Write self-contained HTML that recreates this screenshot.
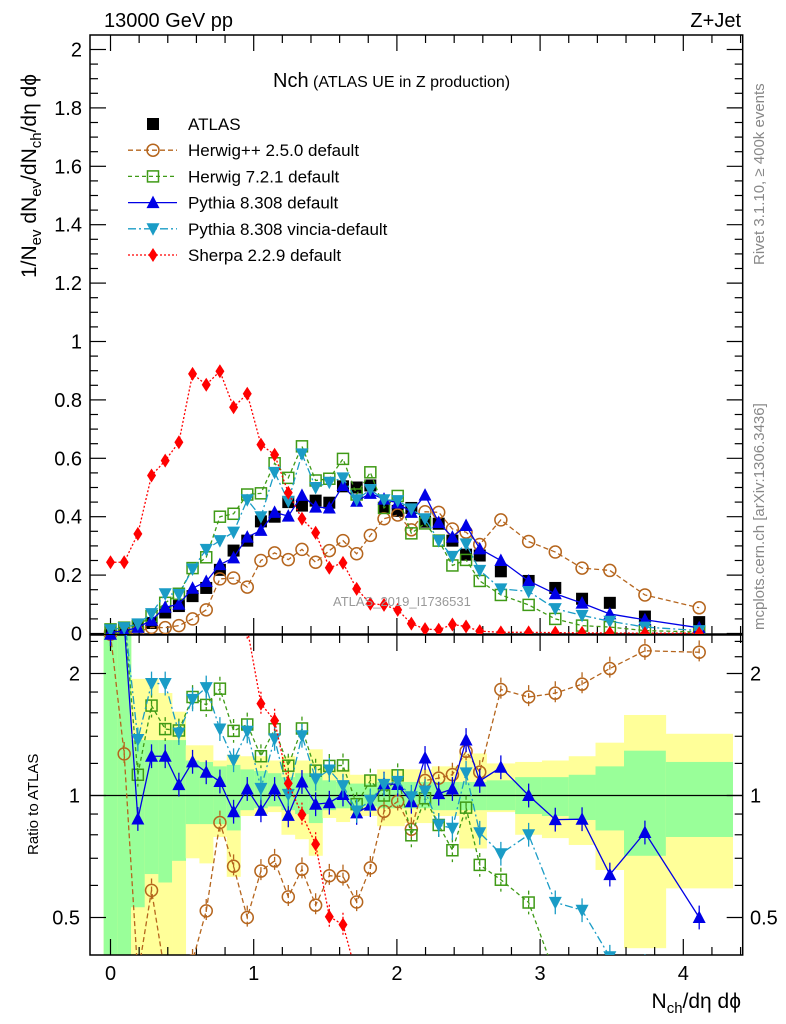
<!DOCTYPE html>
<html><head><meta charset="utf-8">
<style>
html,body{margin:0;padding:0;background:#fff;width:786px;height:1024px;overflow:hidden;}
svg{display:block;font-family:"Liberation Sans",sans-serif;overflow:hidden;}
</style></head>
<body>
<svg id="chart" width="786" height="1024" viewBox="0 0 786 1024" xmlns="http://www.w3.org/2000/svg">
<defs>
<clipPath id="clipMain"><rect x="90" y="35" width="653" height="599"/></clipPath>
<clipPath id="clipRatio"><rect x="90" y="635" width="653" height="320"/></clipPath>
</defs>
<g id="ratioBand" clip-path="url(#clipRatio)"></g>
<g id="axes"></g>
<g id="mainSeries" clip-path="url(#clipMain)"></g>
<g id="ratioSeries" clip-path="url(#clipRatio)"></g>
<text x="104" y="27" font-size="20">13000 GeV pp</text>
<text x="741" y="27" font-size="20" text-anchor="end">Z+Jet</text>
<text x="273" y="87"><tspan font-size="20">Nch</tspan><tspan font-size="16"> (ATLAS UE in Z production)</tspan></text>
<text x="333" y="606" font-size="13" fill="#999">ATLAS_2019_I1736531</text>
<text transform="translate(764,265) rotate(-90)" font-size="15" fill="#888">Rivet 3.1.10, ≥ 400k events</text>
<text transform="translate(764,630) rotate(-90)" font-size="15" fill="#888">mcplots.cern.ch [arXiv:1306.3436]</text>
<text transform="translate(36,278) rotate(-90)" font-size="21">1/N<tspan font-size="15" dy="5">ev</tspan><tspan dy="-5"> dN</tspan><tspan font-size="15" dy="5">ev</tspan><tspan dy="-5">/dN</tspan><tspan font-size="15" dy="5">ch</tspan><tspan dy="-5">/dη dϕ</tspan></text>
<text transform="translate(38,855) rotate(-90)" font-size="15">Ratio to ATLAS</text>
<text x="741" y="1008" font-size="21" text-anchor="end">N<tspan font-size="15" dy="5">ch</tspan><tspan dy="-5">/dη dϕ</tspan></text>
<g id="legend"></g>
</svg>
<script>
// ---- data ----
const xCenters = [0,0.0955,0.191,0.2865,0.382,0.4775,0.573,0.6685,0.764,0.8595,0.955,1.0505,1.146,1.2415,1.337,1.4325,1.528,1.6235,1.719,1.8145,1.91,2.0055,2.101,2.1965,2.292,2.3875,2.483,2.5785,2.726,2.92,3.106,3.293,3.487,3.732,4.111];
const binEdges = [-0.0478,0.0478,0.1433,0.2388,0.3343,0.4298,0.5253,0.6208,0.7163,0.8118,0.9073,1.0028,1.0983,1.1938,1.2893,1.3848,1.4803,1.5758,1.6713,1.7668,1.8623,1.9578,2.0533,2.1488,2.2443,2.3398,2.4353,2.5308,2.6263,2.826,3.013,3.2,3.387,3.586,3.878,4.345];
const atlasValues = [0.002,0.003,0.024,0.036,0.072,0.094,0.128,0.156,0.218,0.284,0.318,0.384,0.40,0.45,0.438,0.455,0.448,0.504,0.50,0.507,0.43,0.42,0.43,0.383,0.376,0.318,0.27,0.267,0.213,0.18,0.156,0.119,0.105,0.058,0.039];
const herwigppValues = [0.005,0.0038,0.006,0.021,0.02,0.027,0.05,0.081,0.187,0.19,0.159,0.25,0.276,0.253,0.288,0.244,0.284,0.318,0.273,0.336,0.393,0.406,0.355,0.417,0.415,0.358,0.347,0.305,0.389,0.315,0.279,0.224,0.216,0.132,0.088];
const herwig7Values = [0.014,0.02,0.027,0.06,0.105,0.136,0.224,0.261,0.40,0.41,0.476,0.48,0.583,0.533,0.641,0.524,0.53,0.598,0.476,0.552,0.43,0.471,0.343,0.377,0.318,0.233,0.252,0.18,0.132,0.098,0.05,0.027,0.022,0.01,0.005];
const pythiaValues = [0.005,0.008,0.021,0.045,0.09,0.1,0.155,0.178,0.236,0.259,0.33,0.353,0.415,0.402,0.473,0.433,0.43,0.507,0.453,0.48,0.46,0.447,0.415,0.474,0.38,0.33,0.37,0.29,0.25,0.18,0.136,0.104,0.067,0.047,0.0195];
const vinciaValues = [0.013,0.02,0.033,0.068,0.136,0.134,0.221,0.288,0.318,0.347,0.458,0.40,0.552,0.453,0.615,0.50,0.518,0.533,0.458,0.493,0.458,0.455,0.427,0.393,0.318,0.264,0.307,0.216,0.153,0.144,0.085,0.062,0.042,0.022,0.01];
const sherpaValues = [0.244,0.244,0.341,0.541,0.592,0.655,0.889,0.852,0.898,0.775,0.821,0.647,0.612,0.482,0.393,0.345,0.225,0.242,0.153,0.102,0.098,0.081,0.034,0.015,0.013,0.031,0.024,0.008,0.004,0.004,0.003,0.002,0.002,0.001,0.001];
const bandYellowHi = [3,3,1.94,1.94,1.79,1.61,1.33,1.33,1.22,1.26,1.25,1.25,1.22,1.25,1.22,1.30,1.16,1.16,1.125,1.125,1.16,1.16,1.16,1.16,1.18,1.18,1.27,1.27,1.20,1.21,1.22,1.25,1.35,1.58,1.42];
const bandYellowLo = [0.3,0.3,0.3,0.3,0.3,0.3,0.70,0.68,0.79,0.63,0.89,0.90,0.91,0.80,0.78,0.71,0.88,0.86,0.89,0.89,0.84,0.84,0.855,0.855,0.89,0.89,0.74,0.74,0.91,0.80,0.785,0.755,0.655,0.42,0.59];
const bandGreenHi = [3,3,1.37,1.37,1.37,1.37,1.22,1.21,1.18,1.19,1.16,1.15,1.135,1.11,1.135,1.135,1.09,1.08,1.07,1.07,1.08,1.08,1.08,1.08,1.08,1.08,1.08,1.08,1.09,1.11,1.11,1.125,1.18,1.29,1.21];
const bandGreenLo = [0.3,0.3,0.53,0.64,0.61,0.69,0.85,0.85,0.85,0.82,0.92,0.93,0.94,0.92,0.90,0.855,0.92,0.93,0.93,0.94,0.93,0.93,0.93,0.93,0.92,0.92,0.92,0.92,0.92,0.90,0.89,0.87,0.82,0.71,0.79];
const mainTickLabels = ["0","0.2","0.4","0.6","0.8","1","1.2","1.4","1.6","1.8","2"];
const xTickLabels = ["0","1","2","3","4"];
const ratioTickLabels = ["0.5","1","2"];

// ---- axis functions ----
const X0=90, X1=742.7, MT=35, MB=634, RT=635, RB=955;
function sx(v){return 110.5 + v*143.2;}
function sy(v){return 633.5 - v*292;}
function clampR(r){return Math.min(Math.max(r,0.36),2.8);}
function sr(r){return 795.5 - 122*Math.log2(clampR(r));}
const NS="http://www.w3.org/2000/svg";
function mk(tag, attrs, parent){const e=document.createElementNS(NS,tag);for(const k in attrs)e.setAttribute(k,attrs[k]);parent.appendChild(e);return e;}

// ---- ratio band ----
const band=document.getElementById('ratioBand');
for(let i=0;i<xCenters.length;i++){
  const a=sx(binEdges[i]), b=sx(binEdges[i+1]);
  const ry=mk('rect',{x:a,y:sr(bandYellowHi[i]),width:b-a+0.3,height:sr(bandYellowLo[i])-sr(bandYellowHi[i]),fill:'#ffff99'},band);
  
  
  const rg=mk('rect',{x:a,y:sr(bandGreenHi[i]),width:b-a+0.3,height:sr(bandGreenLo[i])-sr(bandGreenHi[i]),fill:'#99ff99'},band);
  
  
}

// ---- axes ----
const ax=document.getElementById('axes');
mk('rect',{x:X0,y:MT,width:X1-X0,height:MB-MT,fill:'none',stroke:'#000','stroke-width':1.5},ax);
mk('rect',{x:X0,y:RT,width:X1-X0,height:RB-RT,fill:'none',stroke:'#000','stroke-width':1.5},ax);
mk('line',{x1:X0,x2:X1,y1:sr(1),y2:sr(1),stroke:'#000','stroke-width':1.2},ax);
for(let k=0;k<=40;k++){const v=k*0.05,y=sy(v);const maj=k%4===0;const L=maj?16:8;
  mk('line',{x1:X0,x2:X0+L,y1:y,y2:y,stroke:'#000','stroke-width':1.2},ax);
  mk('line',{x1:X1-L,x2:X1,y1:y,y2:y,stroke:'#000','stroke-width':1.2},ax);}
mainTickLabels.forEach((t,i)=>{const tx=mk('text',{x:82,y:sy(i*0.2)+7,'font-size':20,'text-anchor':'end'},ax);tx.textContent=t;
  
  });
for(let k=0;k<=22;k++){const v=k*0.2,x=sx(v);if(x>X1)break;const maj=k%5===0;const L=maj?16:8;
  [[MT,MT+L],[MB-L,MB],[RT,RT+L],[RB-L,RB]].forEach(p=>mk('line',{x1:x,x2:x,y1:p[0],y2:p[1],stroke:'#000','stroke-width':1.2},ax));}
xTickLabels.forEach((t,i)=>{const tx=mk('text',{x:sx(i),y:980,'font-size':20,'text-anchor':'middle'},ax);tx.textContent=t;
  
  });
[0.4,0.5,0.6,0.7,0.8,0.9,1,1.2,1.4,1.6,1.8,2,2.2,2.4].forEach(r=>{const y=sr(r);const maj=(r===0.5||r===1||r===2);const L=maj?16:8;
  if(y<RT||y>RB)return;
  mk('line',{x1:X0,x2:X0+L,y1:y,y2:y,stroke:'#000','stroke-width':1.2},ax);
  mk('line',{x1:X1-L,x2:X1,y1:y,y2:y,stroke:'#000','stroke-width':1.2},ax);});
ratioTickLabels.forEach(t=>{const r=parseFloat(t);
  const a=mk('text',{x:80,y:sr(r)+7,'font-size':20,'text-anchor':'end'},ax);a.textContent=t;
  
  
  const b=mk('text',{x:750,y:sr(r)+7,'font-size':20},ax);b.textContent=t;
  
  });

// ---- markers ----
function marker(type,color,x,y,parent){
  let e;
  if(type==='fsquare') e=mk('rect',{x:x-6,y:y-6,width:12,height:12,fill:'#000'},parent);
  else if(type==='circle') e=mk('circle',{cx:x,cy:y,r:6,fill:'none',stroke:color,'stroke-width':1.5},parent);
  else if(type==='osquare') e=mk('rect',{x:x-5.5,y:y-5.5,width:11,height:11,fill:'none',stroke:color,'stroke-width':1.5},parent);
  else if(type==='tup') e=mk('polygon',{points:`${x-6.5},${y+5.5} ${x+6.5},${y+5.5} ${x},${y-7}`,fill:color},parent);
  else if(type==='tdown') e=mk('polygon',{points:`${x-6.5},${y-5.5} ${x+6.5},${y-5.5} ${x},${y+7}`,fill:color},parent);
  else e=mk('polygon',{points:`${x},${y-7} ${x+4.5},${y} ${x},${y+7} ${x-4.5},${y}`,fill:color},parent);
  return e;
}
const series=[
  {name:'herwigpp',label:'Herwig++ 2.5.0 default',vals:herwigppValues,color:'#b5651d',dash:'5,3',m:'circle'},
  {name:'herwig7',label:'Herwig 7.2.1 default',vals:herwig7Values,color:'#3f9a16',dash:'4,3',m:'osquare'},
  {name:'pythia',label:'Pythia 8.308 default',vals:pythiaValues,color:'#0000e6',dash:'',m:'tup'},
  {name:'vincia',label:'Pythia 8.308 vincia-default',vals:vinciaValues,color:'#1a9cc6',dash:'8,3,2,3',m:'tdown'},
  {name:'sherpa',label:'Sherpa 2.2.9 default',vals:sherpaValues,color:'#ff0000',dash:'2,2',m:'diamond'}
];
const mainG=document.getElementById('mainSeries'), ratG=document.getElementById('ratioSeries');
const dg=mk('g',{},mainG);


atlasValues.forEach((v,i)=>{const m=marker('fsquare','#000',sx(xCenters[i]),sy(v),dg);
  
  });
series.forEach(s=>{
  const g=mk('g',{},mainG);
  
  
  const pts=s.vals.map((v,i)=>sx(xCenters[i])+','+sy(v)).join(' ');
  mk('polyline',{points:pts,fill:'none',stroke:s.color,'stroke-width':1.3,'stroke-dasharray':s.dash},g);
  s.vals.forEach((v,i)=>{const m=marker(s.m,s.color,sx(xCenters[i]),sy(v),g);
    
    });
  const gr=mk('g',{},ratG);
  
  
  const rv=s.vals.map((v,i)=>v/atlasValues[i]);
  const rp=rv.map((r,i)=>sx(xCenters[i])+','+sr(r)).join(' ');
  mk('polyline',{points:rp,fill:'none',stroke:s.color,'stroke-width':1.3,'stroke-dasharray':s.dash},gr);
  rv.forEach((r,i)=>{const x=sx(xCenters[i]);
    if(r<0.36||r>2.8) return;
    mk('line',{x1:x,x2:x,y1:sr(r*1.07),y2:sr(r/1.07),stroke:s.color,'stroke-width':1.3,'stroke-dasharray':s.dash},gr);
    const m=marker(s.m,s.color,x,sr(r),gr);
    
    });
});

// ---- legend ----
const lg=document.getElementById('legend');
const entries=[{label:'ATLAS',m:'fsquare',color:'#000',dash:null}].concat(series);
entries.forEach((e,k)=>{const y=124+k*26.2;
  const g=mk('g',{},lg);
  
  
  if(e.dash!==null) mk('line',{x1:128,x2:177,y1:y,y2:y,stroke:e.color,'stroke-width':1.3,'stroke-dasharray':e.dash},g);
  marker(e.m,e.color,153,y,g);
  const t=mk('text',{x:188,y:y+6,'font-size':17},g);t.textContent=e.label;
});
</script>
</body></html>
